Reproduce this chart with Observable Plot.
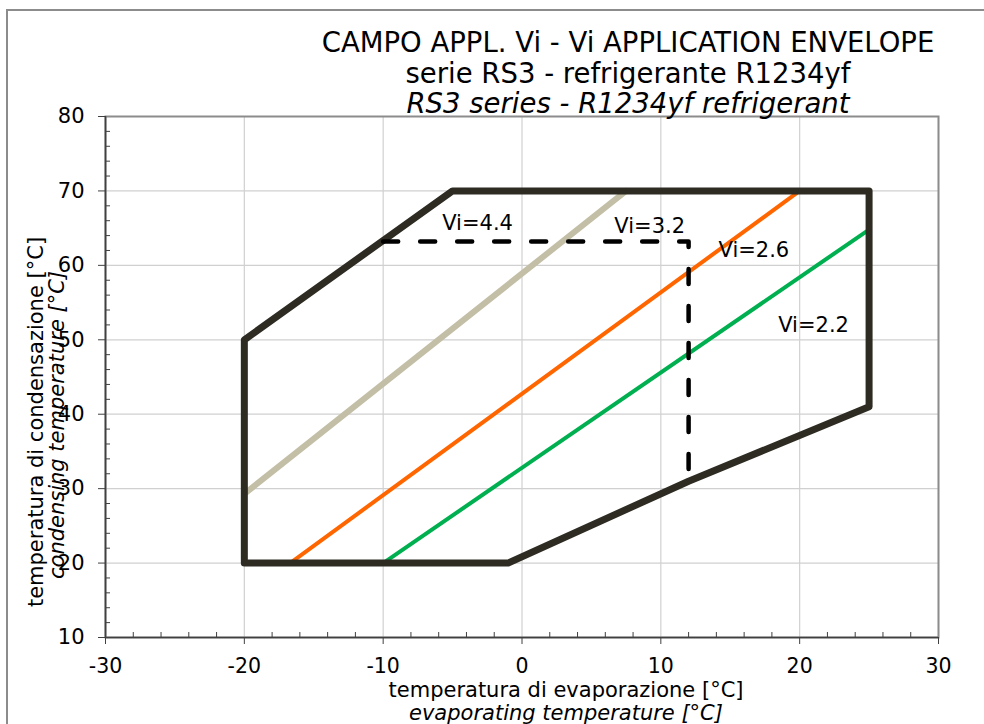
<!DOCTYPE html>
<html><head><meta charset="utf-8">
<script src="https://cdn.jsdelivr.net/npm/d3@7"></script>
<script src="https://cdn.jsdelivr.net/npm/@observablehq/plot@0.6"></script>
<style>
body{margin:0;background:#fff;}
#wrap{position:relative;width:984px;height:724px;overflow:hidden;}
#border{position:absolute;left:6px;top:9px;width:1000px;height:800px;border-left:2px solid #8c8c8c;border-top:2px solid #8c8c8c;pointer-events:none;}
#wrap svg{position:absolute;left:0;top:0;}
</style></head><body><div id="wrap"><div id="border"></div></div>
<script>
// ---- data ----
const xMajor = [-30, -20, -10, 0, 10, 20, 30];
const yMajor = [10, 20, 30, 40, 50, 60, 70, 80];
const xMinor = [-28, -26, -24, -22, -18, -16, -14, -12, -8, -6, -4, -2, 2, 4, 6, 8, 12, 14, 16, 18, 22, 24, 26, 28];
const yMinor = [12, 14, 16, 18, 22, 24, 26, 28, 32, 34, 36, 38, 42, 44, 46, 48, 52, 54, 56, 58, 62, 64, 66, 68, 72, 74, 76, 78];

const envelopeX = [-20, -20, -5, 25, 25, 12, -1, -20];
const envelopeY = [20, 50, 70, 70, 41, 31, 20, 20];

const vi44X = [-20, 7.5];  const vi44Y = [29.3, 70];
const vi26X = [-16.7, 20]; const vi26Y = [20, 70];
const vi22X = [-10, 25];   const vi22Y = [20, 64.8];

const vi32X = [-10, 12, 12]; const vi32Y = [63.2, 63.2, 31];

const labelText = ["Vi=4.4", "Vi=3.2", "Vi=2.6", "Vi=2.2"];
const labelX = [-3.2, 9.2, 16.7, 21.0];
const labelY = [65.7, 65.2, 62.0, 51.9];

const titleLines = ["CAMPO APPL. Vi - Vi APPLICATION ENVELOPE", "serie RS3 - refrigerante R1234yf", "RS3 series - R1234yf refrigerant"];
const xTitle = ["temperatura di evaporazione [°C]", "evaporating temperature [°C]"];
const yTitle = ["temperatura di condensazione [°C]", "condensing temperature [°C]"];

// ---- tables ----
const pts = (xs, ys) => xs.map((x, i) => ({x, y: ys[i]}));
const envelope = pts(envelopeX, envelopeY);
const labels = labelText.map((t, i) => ({t, x: labelX[i], y: labelY[i]}));

const chart = Plot.plot({
  width: 984, height: 724,
  marginLeft: 105, marginRight: 46, marginTop: 116, marginBottom: 87,
  style: {fontFamily: "DejaVu Sans", background: "transparent", color: "#000"},
  x: {domain: [-30, 30]},
  y: {domain: [10, 80]},
  marks: [
    Plot.gridX(xMajor, {stroke: "#d0d0d0", strokeOpacity: 1, strokeWidth: 1.2}),
    Plot.gridY(yMajor, {stroke: "#d0d0d0", strokeOpacity: 1, strokeWidth: 1.2}),
    Plot.frame({stroke: "#8c8c8c", strokeWidth: 2}),
    Plot.axisX(xMajor, {tickSize: 7, tickPadding: 14, fontSize: 20.5, stroke: "#404040", fill: "#000", label: null, tickFormat: d => String(d)}),
    Plot.axisX(xMinor, {tickSize: -5, text: null, stroke: "#404040", label: null}),
    Plot.axisY(yMajor, {tickSize: 7, tickPadding: 14, fontSize: 21, stroke: "#404040", fill: "#000", label: null}),
    Plot.axisY(yMinor, {tickSize: -5, text: null, stroke: "#404040", label: null}),
    Plot.ruleY([10], {stroke: "#404040", strokeWidth: 1.6}),
    Plot.ruleX([-30], {stroke: "#404040", strokeWidth: 1.6}),
    Plot.line(pts(vi44X, vi44Y), {x: "x", y: "y", stroke: "#c3bea6", strokeWidth: 6}),
    Plot.line(pts(vi26X, vi26Y), {x: "x", y: "y", stroke: "#ff6600", strokeWidth: 4}),
    Plot.line(pts(vi22X, vi22Y), {x: "x", y: "y", stroke: "#00b050", strokeWidth: 4}),
    Plot.line(envelope, {x: "x", y: "y", stroke: "#2e2b22", strokeWidth: 7, strokeLinejoin: "round", strokeLinecap: "round"}),
    Plot.line(pts(vi32X, vi32Y), {x: "x", y: "y", stroke: "#000", strokeWidth: 4.5, strokeDasharray: "15,22", strokeLinecap: "round"}),
    Plot.text(labels, {x: "x", y: "y", text: "t", fontSize: 21, fill: "#000", lineAnchor: "middle"}),
    Plot.text([titleLines[0]], {text: d => d, frameAnchor: "top", dx: 106, dy: -65, lineAnchor: "bottom", fontSize: 27.5, fill: "#000"}),
    Plot.text([titleLines[1]], {text: d => d, frameAnchor: "top", dx: 106, dy: -34, lineAnchor: "bottom", fontSize: 27.5, fill: "#000"}),
    Plot.text([titleLines[2]], {text: d => d, frameAnchor: "top", dx: 106, dy: -4, lineAnchor: "bottom", fontSize: 27.5, fill: "#000", fontStyle: "italic"}),
    Plot.text([xTitle[0]], {text: d => d, frameAnchor: "bottom", dx: 44, dy: 59, lineAnchor: "bottom", fontSize: 21, fill: "#000"}),
    Plot.text([xTitle[1]], {text: d => d, frameAnchor: "bottom", dx: 44, dy: 82, lineAnchor: "bottom", fontSize: 21, fill: "#000", fontStyle: "italic"}),
    Plot.text([yTitle[0]], {text: d => d, frameAnchor: "left", textAnchor: "middle", dx: -63, dy: 45, rotate: -90, lineAnchor: "bottom", fontSize: 21, fill: "#000"}),
    Plot.text([yTitle[1]], {text: d => d, frameAnchor: "left", textAnchor: "middle", dx: -42, dy: 48, rotate: -90, lineAnchor: "bottom", fontSize: 21, fill: "#000", fontStyle: "italic"})
  ]
});
document.getElementById("wrap").appendChild(chart);
</script>
</body></html>
